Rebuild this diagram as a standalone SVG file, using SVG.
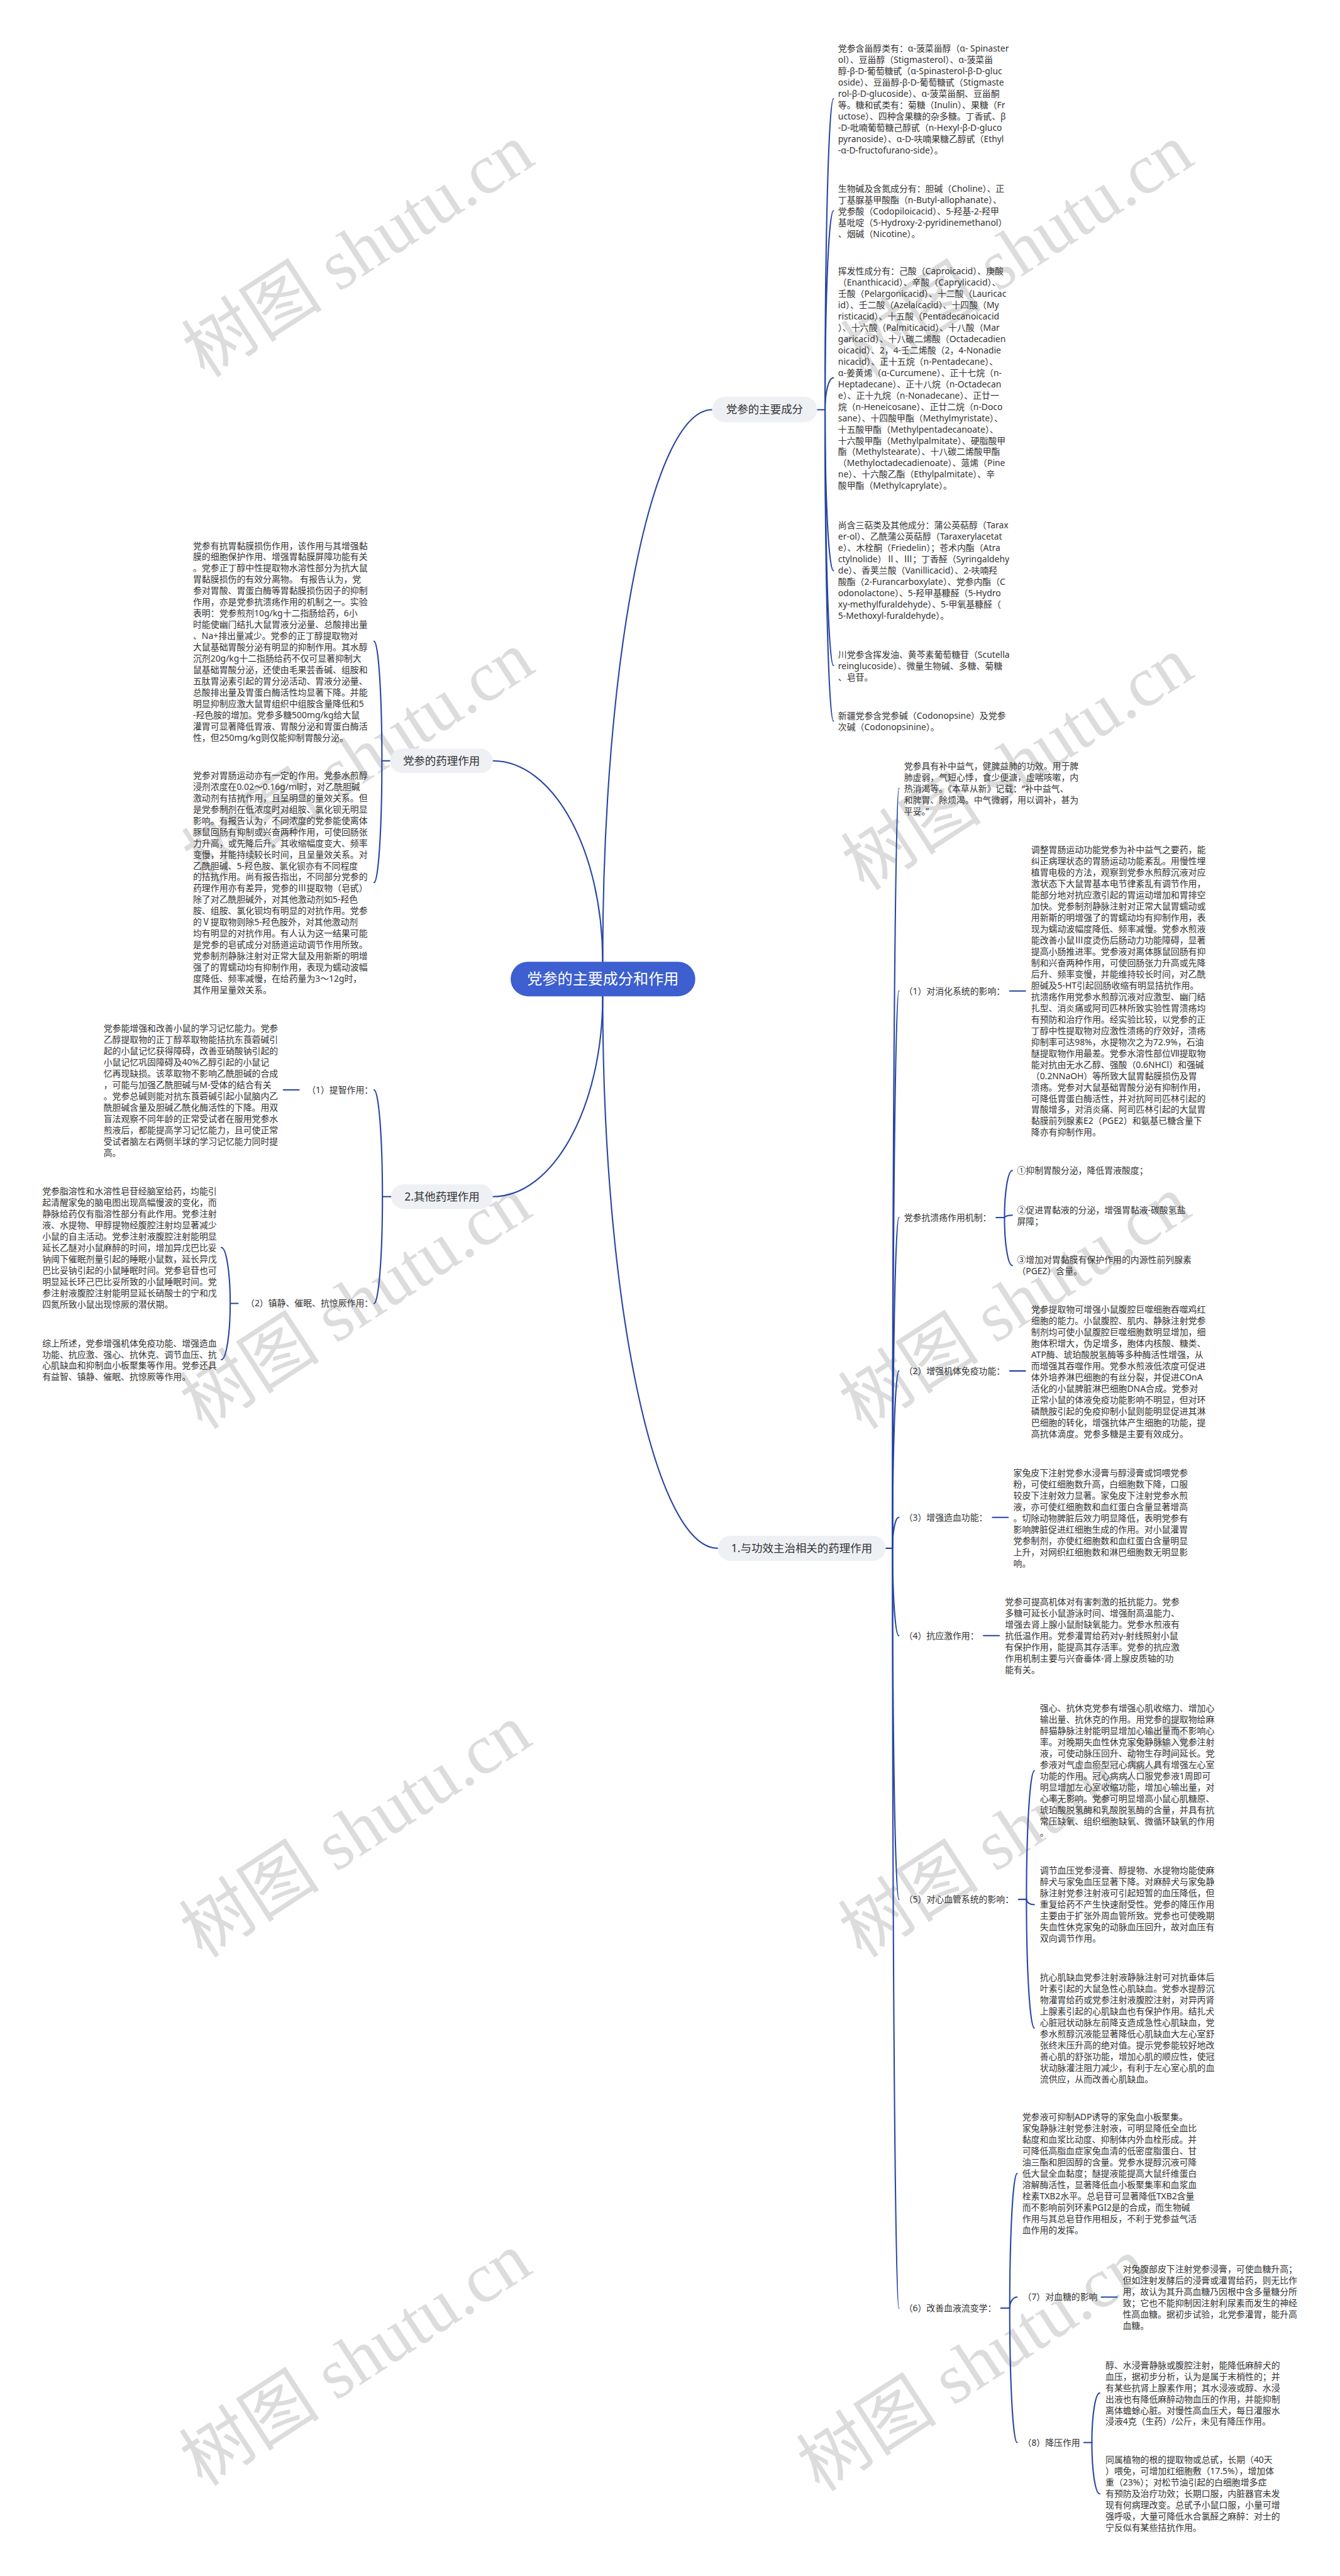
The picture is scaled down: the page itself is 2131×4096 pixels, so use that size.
<svg xmlns="http://www.w3.org/2000/svg" width="2131" height="4096" viewBox="0 0 2131 4096">
<style>
.t{font-family:'Noto Sans','Noto Sans CJK SC',sans-serif;font-size:16.7px;fill:#333}
.l1{font-family:'Noto Sans','Noto Sans CJK SC',sans-serif;font-size:21px;fill:#333}
.root{font-family:'Noto Sans','Noto Sans CJK SC',sans-serif;font-size:29px;fill:#fff}
.pill{fill:#eef0f4}
.c{fill:none;stroke:#2645a3;stroke-width:2.5;stroke-linecap:round}
.wm{font-family:'Liberation Serif','Noto Sans CJK SC',serif;font-size:135px;fill:#dcdcdc}
</style>
<rect width="2131" height="4096" fill="#fff"/>
<g transform="scale(0.832)">
<g id="watermark" text-anchor="middle">
<text class="wm" transform="translate(685,480) rotate(-33)" y="45">树图 shutu.cn</text>
<text class="wm" transform="translate(1945,480) rotate(-33)" y="45">树图 shutu.cn</text>
<text class="wm" transform="translate(685,1450) rotate(-33)" y="45">树图 shutu.cn</text>
<text class="wm" transform="translate(1945,1460) rotate(-33)" y="45">树图 shutu.cn</text>
<text class="wm" transform="translate(680,2490) rotate(-33)" y="45">树图 shutu.cn</text>
<text class="wm" transform="translate(1940,2490) rotate(-33)" y="45">树图 shutu.cn</text>
<text class="wm" transform="translate(680,3500) rotate(-33)" y="45">树图 shutu.cn</text>
<text class="wm" transform="translate(1940,3500) rotate(-33)" y="45">树图 shutu.cn</text>
<text class="wm" transform="translate(680,4510) rotate(-33)" y="45">树图 shutu.cn</text>
<text class="wm" transform="translate(1860,4520) rotate(-33)" y="45">树图 shutu.cn</text>
</g>
<g id="connectors">
<path class="c" d="M1152,1838 C1152,1256 1246,783 1361,783"/>
<path class="c" d="M1152,1838 C1152,1626 1058,1454 942,1454"/>
<path class="c" d="M1152,1904 C1152,2115 1058,2287 942,2287"/>
<path class="c" d="M1152,1904 C1152,2486 1251,2959 1372,2959"/>
<path class="c" d="M1562,783 H1577"/>
<path class="c" d="M1577,783 C1577,455 1584,189 1593,189"/>
<path class="c" d="M1577,783 C1577,573.5 1584,403 1593,403"/>
<path class="c" d="M1577,783 C1577,749 1584,722 1593,722"/>
<path class="c" d="M1577,783 C1577,953 1584,1090.5 1593,1090.5"/>
<path class="c" d="M1577,783 C1577,1053 1584,1272 1593,1272"/>
<path class="c" d="M1577,783 C1577,1111 1584,1378 1593,1378"/>
<path class="c" d="M745.6,1454 H730"/>
<path class="c" d="M730,1454 C730,1328 723.3,1225.5 715,1225.5"/>
<path class="c" d="M730,1454 C730,1582.5 723.3,1686.7 715,1686.7"/>
<path class="c" d="M747.7,2287 H731"/>
<path class="c" d="M731,2287 C731,2174 723.8,2083 715,2083"/>
<path class="c" d="M731,2287 C731,2400 723.8,2491 715,2491"/>
<path class="c" d="M571.7,2083 H541.7"/>
<path class="c" d="M455,2491 H440"/>
<path class="c" d="M440,2491 C440,2432 432.4,2384 423,2384"/>
<path class="c" d="M440,2491 C440,2550 432.4,2598.5 423,2598.5"/>
<path class="c" d="M1693,2959 H1706"/>
<path class="c" d="M1706,2959 C1706,2157.5 1711.4,1507 1718,1507"/>
<path class="c" d="M1706,2959 C1706,2371 1711.4,1894 1718,1894"/>
<path class="c" d="M1706,2959 C1706,2610 1711.4,2327 1718,2327"/>
<path class="c" d="M1706,2959 C1706,2772 1711.4,2620 1718,2620"/>
<path class="c" d="M1706,2959 C1706,2926 1711.4,2900 1718,2900"/>
<path class="c" d="M1706,2959 C1706,3051 1711.4,3126 1718,3126"/>
<path class="c" d="M1706,2959 C1706,3329 1711.4,3630 1718,3630"/>
<path class="c" d="M1706,2959 C1706,3760 1711.4,4411 1718,4411"/>
<path class="c" d="M1930,1894 H1960"/>
<path class="c" d="M1904,2327 H1920"/>
<path class="c" d="M1920,2327 C1920,2277 1926.7,2237 1935,2237"/>
<path class="c" d="M1920,2327 C1920,2324.5 1926.7,2322.5 1935,2322.5"/>
<path class="c" d="M1920,2327 C1920,2377.5 1926.7,2418.5 1935,2418.5"/>
<path class="c" d="M1930,2620 H1960"/>
<path class="c" d="M1897,2900 H1927"/>
<path class="c" d="M1880,3126 H1910"/>
<path class="c" d="M1947,3630 H1962"/>
<path class="c" d="M1962,3630 C1962,3494 1968.7,3384 1977,3384"/>
<path class="c" d="M1962,3630 C1962,3635.5 1968.7,3640 1977,3640"/>
<path class="c" d="M1962,3630 C1962,3766 1968.7,3876 1977,3876"/>
<path class="c" d="M1913,4411 H1930"/>
<path class="c" d="M1930,4411 C1930,4269 1936.3,4154 1944,4154"/>
<path class="c" d="M1930,4411 C1930,4399.4 1936.3,4390 1944,4390"/>
<path class="c" d="M1930,4411 C1930,4553 1936.3,4668 1944,4668"/>
<path class="c" d="M2105,4390 H2135"/>
<path class="c" d="M2072,4668 H2087"/>
<path class="c" d="M2087,4668 C2087,4616 2093.7,4573.5 2102,4573.5"/>
<path class="c" d="M2087,4668 C2087,4722 2093.7,4766 2102,4766"/>
</g>
<g id="root">
<rect x="976" y="1838" width="353" height="66" rx="33" fill="#3d5fcf"/>
<text class="root" x="1152.5" y="1881" text-anchor="middle">党参的主要成分和作用</text>
</g>
<g id="n-components">
<rect class="pill" x="1361" y="758" width="201" height="49" rx="24.5"/>
<text class="l1" x="1461.5" y="790" text-anchor="middle">党参的主要成分</text>
</g>
<g id="n-pharm">
<rect class="pill" x="745.6" y="1430.5" width="196.4" height="47" rx="23.5"/>
<text class="l1" x="843.8" y="1461.5" text-anchor="middle">党参的药理作用</text>
</g>
<g id="n-other">
<rect class="pill" x="747.7" y="2263.5" width="194.3" height="47" rx="23.5"/>
<text class="l1" x="844.9" y="2294.5" text-anchor="middle">2.其他药理作用</text>
</g>
<g id="n-main">
<rect class="pill" x="1372" y="2935" width="321" height="48" rx="24"/>
<text class="l1" x="1532.5" y="2966.5" text-anchor="middle">1.与功效主治相关的药理作用</text>
</g>
<g id="n-a">
<text class="t" x="1602" y="98.5"><tspan x="1602" dy="0">党参含甾醇类有：α-菠菜甾醇（α- Spinaster</tspan><tspan x="1602" dy="21.6">ol）、豆甾醇（Stigmasterol）、α-菠菜甾</tspan><tspan x="1602" dy="21.6">醇-β-D-葡萄糖甙（α-Spinasterol-β-D-gluc</tspan><tspan x="1602" dy="21.6">oside）、豆甾醇-β-D-葡萄糖甙（Stigmaste</tspan><tspan x="1602" dy="21.6">rol-β-D-glucoside）、α-菠菜甾酮、豆甾酮</tspan><tspan x="1602" dy="21.6">等。糖和甙类有：菊糖（Inulin）、果糖（Fr</tspan><tspan x="1602" dy="21.6">uctose）、四种含果糖的杂多糖。丁香甙、β</tspan><tspan x="1602" dy="21.6">-D-吡喃葡萄糖己醇甙（n-Hexyl-β-D-gluco</tspan><tspan x="1602" dy="21.6">pyranoside）、α-D-呋喃果糖乙醇甙（Ethyl</tspan><tspan x="1602" dy="21.6">-α-D-fructofurano-side）。</tspan></text>
</g>
<g id="n-b">
<text class="t" x="1602" y="366.5"><tspan x="1602" dy="0">生物碱及含氮成分有：胆碱（Choline）、正</tspan><tspan x="1602" dy="21.6">丁基脲基甲酸酯（n-Butyl-allophanate）、</tspan><tspan x="1602" dy="21.6">党参酸（Codopiloicacid）、5-羟基-2-羟甲</tspan><tspan x="1602" dy="21.6">基吡啶（5-Hydroxy-2-pyridinemethanol）</tspan><tspan x="1602" dy="21.6">、烟碱（Nicotine）。</tspan></text>
</g>
<g id="n-c">
<text class="t" x="1602" y="524"><tspan x="1602" dy="0">挥发性成分有：己酸（Caproicacid）、庚酸</tspan><tspan x="1602" dy="21.6">（Enanthicacid）、辛酸（Caprylicacid）、</tspan><tspan x="1602" dy="21.6">壬酸（Pelargonicacid）、十二酸（Lauricac</tspan><tspan x="1602" dy="21.6">id）、壬二酸（Azelaicacid）、十四酸（My</tspan><tspan x="1602" dy="21.6">risticacid）、十五酸（Pentadecanoicacid</tspan><tspan x="1602" dy="21.6">）、十六酸（Palmiticacid）、十八酸（Mar</tspan><tspan x="1602" dy="21.6">garicacid）、十八碳二烯酸（Octadecadien</tspan><tspan x="1602" dy="21.6">oicacid）、2，4-壬二烯酸（2，4-Nonadie</tspan><tspan x="1602" dy="21.6">nicacid）、正十五烷（n-Pentadecane）、</tspan><tspan x="1602" dy="21.6">α-姜黄烯（α-Curcumene）、正十七烷（n-</tspan><tspan x="1602" dy="21.6">Heptadecane）、正十八烷（n-Octadecan</tspan><tspan x="1602" dy="21.6">e）、正十九烷（n-Nonadecane）、正廿一</tspan><tspan x="1602" dy="21.6">烷（n-Heneicosane）、正廿二烷（n-Doco</tspan><tspan x="1602" dy="21.6">sane）、十四酸甲酯（Methylmyristate）、</tspan><tspan x="1602" dy="21.6">十五酸甲酯（Methylpentadecanoate）、</tspan><tspan x="1602" dy="21.6">十六酸甲酯（Methylpalmitate）、硬脂酸甲</tspan><tspan x="1602" dy="21.6">酯（Methylstearate）、十八碳二烯酸甲酯</tspan><tspan x="1602" dy="21.6">（Methyloctadecadienoate）、蒎烯（Pine</tspan><tspan x="1602" dy="21.6">ne）、十六酸乙酯（Ethylpalmitate）、辛</tspan><tspan x="1602" dy="21.6">酸甲酯（Methylcaprylate）。</tspan></text>
</g>
<g id="n-d">
<text class="t" x="1602" y="1010"><tspan x="1602" dy="0">尚含三萜类及其他成分：蒲公英萜醇（Tarax</tspan><tspan x="1602" dy="21.6">er-ol）、乙酰蒲公英萜醇（Taraxerylacetat</tspan><tspan x="1602" dy="21.6">e）、木栓酮（Friedelin）；苍术内酯（Atra</tspan><tspan x="1602" dy="21.6">ctylnolide）Ⅱ、Ⅲ；丁香醛（Syringaldehy</tspan><tspan x="1602" dy="21.6">de）、香荚兰酸（Vanillicacid）、2-呋喃羟</tspan><tspan x="1602" dy="21.6">酸酯（2-Furancarboxylate）、党参内酯（C</tspan><tspan x="1602" dy="21.6">odonolactone）、5-羟甲基糠醛（5-Hydro</tspan><tspan x="1602" dy="21.6">xy-methylfuraldehyde）、5-甲氧基糠醛（</tspan><tspan x="1602" dy="21.6">5-Methoxyl-furaldehyde）。</tspan></text>
</g>
<g id="n-e">
<text class="t" x="1602" y="1257"><tspan x="1602" dy="0">川党参含挥发油、黄芩素葡萄糖苷（Scutella</tspan><tspan x="1602" dy="21.6">reinglucoside）、微量生物碱、多糖、菊糖</tspan><tspan x="1602" dy="21.6">、皂苷。</tspan></text>
</g>
<g id="n-f">
<text class="t" x="1602" y="1373.6"><tspan x="1602" dy="0">新疆党参含党参碱（Codonopsine）及党参</tspan><tspan x="1602" dy="21.6">次碱（Codonopsinine）。</tspan></text>
</g>
<g id="n-g">
<text class="t" x="369" y="1048.7"><tspan x="369" dy="0">党参有抗胃黏膜损伤作用，该作用与其增强黏</tspan><tspan x="369" dy="21.6">膜的细胞保护作用、增强胃黏膜屏障功能有关</tspan><tspan x="369" dy="21.6">。党参正丁醇中性提取物水溶性部分为抗大鼠</tspan><tspan x="369" dy="21.6">胃黏膜损伤的有效分离物。 有报告认为，党</tspan><tspan x="369" dy="21.6">参对胃酸、胃蛋白酶等胃黏膜损伤因子的抑制</tspan><tspan x="369" dy="21.6">作用，亦是党参抗溃疡作用的机制之一。实验</tspan><tspan x="369" dy="21.6">表明：党参煎剂10g/kg十二指肠给药，6小</tspan><tspan x="369" dy="21.6">时能使幽门结扎大鼠胃液分泌量、总酸排出量</tspan><tspan x="369" dy="21.6">、Na+排出量减少。党参的正丁醇提取物对</tspan><tspan x="369" dy="21.6">大鼠基础胃酸分泌有明显的抑制作用。其水醇</tspan><tspan x="369" dy="21.6">沉剂20g/kg十二指肠给药不仅可显著抑制大</tspan><tspan x="369" dy="21.6">鼠基础胃酸分泌，还使由毛果芸香碱、组胺和</tspan><tspan x="369" dy="21.6">五肽胃泌素引起的胃分泌活动、胃液分泌量、</tspan><tspan x="369" dy="21.6">总酸排出量及胃蛋白酶活性均显著下降。并能</tspan><tspan x="369" dy="21.6">明显抑制应激大鼠胃组织中组胺含量降低和5</tspan><tspan x="369" dy="21.6">-羟色胺的增加。党参多糖500mg/kg给大鼠</tspan><tspan x="369" dy="21.6">灌胃可显著降低胃液、胃酸分泌和胃蛋白酶活</tspan><tspan x="369" dy="21.6">性，但250mg/kg则仅能抑制胃酸分泌。</tspan></text>
</g>
<g id="n-h">
<text class="t" x="369" y="1487.7"><tspan x="369" dy="0">党参对胃肠运动亦有一定的作用。党参水煎醇</tspan><tspan x="369" dy="21.6">浸剂浓度在0.02～0.16g/ml时，对乙酰胆碱</tspan><tspan x="369" dy="21.6">激动剂有拮抗作用，且呈明显的量效关系。但</tspan><tspan x="369" dy="21.6">是党参制剂在低浓度时对组胺、氯化钡无明显</tspan><tspan x="369" dy="21.6">影响。有报告认为，不同浓度的党参能使离体</tspan><tspan x="369" dy="21.6">豚鼠回肠有抑制或兴奋两种作用，可使回肠张</tspan><tspan x="369" dy="21.6">力升高，或先降后升。其收缩幅度变大、频率</tspan><tspan x="369" dy="21.6">变慢，并能持续较长时间，且呈量效关系。对</tspan><tspan x="369" dy="21.6">乙酰胆碱、5-羟色胺、氯化钡亦有不同程度</tspan><tspan x="369" dy="21.6">的拮抗作用。尚有报告指出，不同部分党参的</tspan><tspan x="369" dy="21.6">药理作用亦有差异，党参的Ⅲ提取物（皂甙）</tspan><tspan x="369" dy="21.6">除了对乙酰胆碱外，对其他激动剂如5-羟色</tspan><tspan x="369" dy="21.6">胺、组胺、氯化钡均有明显的对抗作用。党参</tspan><tspan x="369" dy="21.6">的Ⅴ提取物则除5-羟色胺外，对其他激动剂</tspan><tspan x="369" dy="21.6">均有明显的对抗作用。有人认为这一结果可能</tspan><tspan x="369" dy="21.6">是党参的皂甙成分对肠道运动调节作用所致。</tspan><tspan x="369" dy="21.6">党参制剂静脉注射对正常大鼠及用新斯的明增</tspan><tspan x="369" dy="21.6">强了的胃蠕动均有抑制作用，表现为蠕动波幅</tspan><tspan x="369" dy="21.6">度降低、频率减慢，在给药量为3～12g时，</tspan><tspan x="369" dy="21.6">其作用呈量效关系。</tspan></text>
</g>
<g id="n-o1">
<text class="t" x="713" y="2089" text-anchor="end">（1）提智作用：</text>
</g>
<g id="n-i">
<text class="t" x="198" y="1971.3"><tspan x="198" dy="0">党参能增强和改善小鼠的学习记忆能力。党参</tspan><tspan x="198" dy="21.6">乙醇提取物的正丁醇萃取物能拮抗东莨菪碱引</tspan><tspan x="198" dy="21.6">起的小鼠记忆获得障碍，改善亚硝酸钠引起的</tspan><tspan x="198" dy="21.6">小鼠记忆巩固障碍及40%乙醇引起的小鼠记</tspan><tspan x="198" dy="21.6">忆再现缺损。该萃取物不影响乙酰胆碱的合成</tspan><tspan x="198" dy="21.6">，可能与加强乙酰胆碱与M-受体的结合有关</tspan><tspan x="198" dy="21.6">。党参总碱则能对抗东莨菪碱引起小鼠脑内乙</tspan><tspan x="198" dy="21.6">酰胆碱含量及胆碱乙酰化酶活性的下降。用双</tspan><tspan x="198" dy="21.6">盲法观察不同年龄的正常受试者在服用党参水</tspan><tspan x="198" dy="21.6">煎液后，都能提高学习记忆能力，且可使正常</tspan><tspan x="198" dy="21.6">受试者脑左右两侧半球的学习记忆能力同时提</tspan><tspan x="198" dy="21.6">高。</tspan></text>
</g>
<g id="n-o2">
<text class="t" x="713" y="2497" text-anchor="end">（2）镇静、催眠、抗惊厥作用：</text>
</g>
<g id="n-j">
<text class="t" x="80.7" y="2282.7"><tspan x="80.7" dy="0">党参脂溶性和水溶性皂苷经脑室给药，均能引</tspan><tspan x="80.7" dy="21.6">起清醒家兔的脑电图出现高幅慢波的变化，而</tspan><tspan x="80.7" dy="21.6">静脉给药仅有脂溶性部分有此作用。党参注射</tspan><tspan x="80.7" dy="21.6">液、水提物、甲醇提物经腹腔注射均显著减少</tspan><tspan x="80.7" dy="21.6">小鼠的自主活动。党参注射液腹腔注射能明显</tspan><tspan x="80.7" dy="21.6">延长乙醚对小鼠麻醉的时间，增加异戊巴比妥</tspan><tspan x="80.7" dy="21.6">钠阈下催眠剂量引起的睡眠小鼠数，延长异戊</tspan><tspan x="80.7" dy="21.6">巴比妥钠引起的小鼠睡眠时间。党参皂苷也可</tspan><tspan x="80.7" dy="21.6">明显延长环己巴比妥所致的小鼠睡眠时间。党</tspan><tspan x="80.7" dy="21.6">参注射液腹腔注射能明显延长硝酸士的宁和戊</tspan><tspan x="80.7" dy="21.6">四氮所致小鼠出现惊厥的潜伏期。</tspan></text>
</g>
<g id="n-k">
<text class="t" x="80.7" y="2572.8"><tspan x="80.7" dy="0">综上所述，党参增强机体免疫功能、增强造血</tspan><tspan x="80.7" dy="21.6">功能、抗应激、强心、抗休克、调节血压、抗</tspan><tspan x="80.7" dy="21.6">心肌缺血和抑制血小板聚集等作用。党参还具</tspan><tspan x="80.7" dy="21.6">有益智、镇静、催眠、抗惊厥等作用。</tspan></text>
</g>
<g id="n-l">
<text class="t" x="1728" y="1470"><tspan x="1728" dy="0">党参具有补中益气，健脾益肺的功效。用于脾</tspan><tspan x="1728" dy="21.6">肺虚弱，气短心悸，食少便溏，虚喘咳嗽，内</tspan><tspan x="1728" dy="21.6">热消渴等。《本草从新》记载：“补中益气、</tspan><tspan x="1728" dy="21.6">和脾胃、除烦渴。中气微弱，用以调补，甚为</tspan><tspan x="1728" dy="21.6">平妥。”</tspan></text>
</g>
<g id="n-r1">
<text class="t" x="1728" y="1900">（1）对消化系统的影响：</text>
</g>
<g id="n-m">
<text class="t" x="1971" y="1630"><tspan x="1971" dy="0">调整胃肠运动功能党参为补中益气之要药，能</tspan><tspan x="1971" dy="21.6">纠正病理状态的胃肠运动功能紊乱。用慢性埋</tspan><tspan x="1971" dy="21.6">植胃电极的方法，观察到党参水煎醇沉液对应</tspan><tspan x="1971" dy="21.6">激状态下大鼠胃基本电节律紊乱有调节作用，</tspan><tspan x="1971" dy="21.6">能部分地对抗应激引起的胃运动增加和胃排空</tspan><tspan x="1971" dy="21.6">加快。党参制剂静脉注射对正常大鼠胃蠕动或</tspan><tspan x="1971" dy="21.6">用新斯的明增强了的胃蠕动均有抑制作用，表</tspan><tspan x="1971" dy="21.6">现为蠕动波幅度降低、频率减慢。党参水煎液</tspan><tspan x="1971" dy="21.6">能改善小鼠Ⅲ度烫伤后肠动力功能障碍，显著</tspan><tspan x="1971" dy="21.6">提高小肠推进率。党参液对离体豚鼠回肠有抑</tspan><tspan x="1971" dy="21.6">制和兴奋两种作用，可使回肠张力升高或先降</tspan><tspan x="1971" dy="21.6">后升、频率变慢，并能维持较长时间，对乙酰</tspan><tspan x="1971" dy="21.6">胆碱及5-HT引起回肠收缩有明显拮抗作用。</tspan><tspan x="1971" dy="21.6">抗溃疡作用党参水煎醇沉液对应激型、幽门结</tspan><tspan x="1971" dy="21.6">扎型、消炎痛或阿司匹林所致实验性胃溃疡均</tspan><tspan x="1971" dy="21.6">有预防和治疗作用。经实验比较，以党参的正</tspan><tspan x="1971" dy="21.6">丁醇中性提取物对应激性溃疡的疗效好，溃疡</tspan><tspan x="1971" dy="21.6">抑制率可达98%，水提物次之为72.9%，石油</tspan><tspan x="1971" dy="21.6">醚提取物作用最差。党参水溶性部位Ⅶ提取物</tspan><tspan x="1971" dy="21.6">能对抗由无水乙醇、强酸（0.6NHCl）和强碱</tspan><tspan x="1971" dy="21.6">（0.2NNaOH）等所致大鼠胃黏膜损伤及胃</tspan><tspan x="1971" dy="21.6">溃疡。党参对大鼠基础胃酸分泌有抑制作用，</tspan><tspan x="1971" dy="21.6">可降低胃蛋白酶活性，并对抗阿司匹林引起的</tspan><tspan x="1971" dy="21.6">胃酸增多，对消炎痛、阿司匹林引起的大鼠胃</tspan><tspan x="1971" dy="21.6">黏膜前列腺素E2（PGE2）和氨基已糖含量下</tspan><tspan x="1971" dy="21.6">降亦有抑制作用。</tspan></text>
</g>
<g id="n-ulcer">
<text class="t" x="1728" y="2333">党参抗溃疡作用机制：</text>
</g>
<g id="n-u1">
<text class="t" x="1944" y="2243">①抑制胃酸分泌，降低胃液酸度；</text>
</g>
<g id="n-u2">
<text class="t" x="1944" y="2318"><tspan x="1944" dy="0">②促进胃黏液的分泌，增强胃黏液-碳酸氢盐</tspan><tspan x="1944" dy="21.6">屏障；</tspan></text>
</g>
<g id="n-u3">
<text class="t" x="1944" y="2414"><tspan x="1944" dy="0">③增加对胃黏膜有保护作用的内源性前列腺素</tspan><tspan x="1944" dy="21.6">（PGEZ）含量。</tspan></text>
</g>
<g id="n-r2">
<text class="t" x="1728" y="2626">（2）增强机体免疫功能：</text>
</g>
<g id="n-o">
<text class="t" x="1971" y="2508.5"><tspan x="1971" dy="0">党参提取物可增强小鼠腹腔巨噬细胞吞噬鸡红</tspan><tspan x="1971" dy="21.6">细胞的能力。小鼠腹腔、肌内、静脉注射党参</tspan><tspan x="1971" dy="21.6">制剂均可使小鼠腹腔巨噬细胞数明显增加，细</tspan><tspan x="1971" dy="21.6">胞体积增大，伪足增多，胞体内核酸、糖类、</tspan><tspan x="1971" dy="21.6">ATP酶、琥珀酸脱氢酶等多种酶活性增强，从</tspan><tspan x="1971" dy="21.6">而增强其吞噬作用。党参水煎液低浓度可促进</tspan><tspan x="1971" dy="21.6">体外培养淋巴细胞的有丝分裂，并促进COnA</tspan><tspan x="1971" dy="21.6">活化的小鼠脾脏淋巴细胞DNA合成。党参对</tspan><tspan x="1971" dy="21.6">正常小鼠的体液免疫功能影响不明显，但对环</tspan><tspan x="1971" dy="21.6">磷酰胺引起的免疫抑制小鼠则能明显促进其淋</tspan><tspan x="1971" dy="21.6">巴细胞的转化，增强抗体产生细胞的功能，提</tspan><tspan x="1971" dy="21.6">高抗体滴度。党参多糖是主要有效成分。</tspan></text>
</g>
<g id="n-r3">
<text class="t" x="1728" y="2906">（3）增强造血功能：</text>
</g>
<g id="n-p">
<text class="t" x="1937" y="2821.4"><tspan x="1937" dy="0">家兔皮下注射党参水浸膏与醇浸膏或饲喂党参</tspan><tspan x="1937" dy="21.6">粉，可使红细胞数升高，白细胞数下降，口服</tspan><tspan x="1937" dy="21.6">较皮下注射效力显著。家兔皮下注射党参水煎</tspan><tspan x="1937" dy="21.6">液，亦可使红细胞数和血红蛋白含量显著增高</tspan><tspan x="1937" dy="21.6">。切除动物脾脏后效力明显降低，表明党参有</tspan><tspan x="1937" dy="21.6">影响脾脏促进红细胞生成的作用。对小鼠灌胃</tspan><tspan x="1937" dy="21.6">党参制剂，亦使红细胞数和血红蛋白含量明显</tspan><tspan x="1937" dy="21.6">上升，对网织红细胞数和淋巴细胞数无明显影</tspan><tspan x="1937" dy="21.6">响。</tspan></text>
</g>
<g id="n-r4">
<text class="t" x="1728" y="3132">（4）抗应激作用：</text>
</g>
<g id="n-q">
<text class="t" x="1921" y="3067.7"><tspan x="1921" dy="0">党参可提高机体对有害刺激的抵抗能力。党参</tspan><tspan x="1921" dy="21.6">多糖可延长小鼠游泳时间、增强耐高温能力、</tspan><tspan x="1921" dy="21.6">增强去肾上腺小鼠耐缺氧能力。党参水煎液有</tspan><tspan x="1921" dy="21.6">抗低温作用。党参灌胃给药对γ-射线照射小鼠</tspan><tspan x="1921" dy="21.6">有保护作用，能提高其存活率。党参的抗应激</tspan><tspan x="1921" dy="21.6">作用机制主要与兴奋垂体-肾上腺皮质轴的功</tspan><tspan x="1921" dy="21.6">能有关。</tspan></text>
</g>
<g id="n-r5">
<text class="t" x="1728" y="3636">（5）对心血管系统的影响：</text>
</g>
<g id="n-r">
<text class="t" x="1987.7" y="3271"><tspan x="1987.7" dy="0">强心、抗休克党参有增强心肌收缩力、增加心</tspan><tspan x="1987.7" dy="21.6">输出量、抗休克的作用。用党参的提取物给麻</tspan><tspan x="1987.7" dy="21.6">醉猫静脉注射能明显增加心输出量而不影响心</tspan><tspan x="1987.7" dy="21.6">率。对晚期失血性休克家兔静脉输入党参注射</tspan><tspan x="1987.7" dy="21.6">液，可使动脉压回升、动物生存时间延长。党</tspan><tspan x="1987.7" dy="21.6">参液对气虚血瘀型冠心病病人具有增强左心室</tspan><tspan x="1987.7" dy="21.6">功能的作用。冠心病病人口服党参液1周即可</tspan><tspan x="1987.7" dy="21.6">明显增加左心室收缩功能，增加心输出量，对</tspan><tspan x="1987.7" dy="21.6">心率无影响。党参可明显增高小鼠心肌糖原、</tspan><tspan x="1987.7" dy="21.6">琥珀酸脱氢酶和乳酸脱氢酶的含量，并具有抗</tspan><tspan x="1987.7" dy="21.6">常压缺氧、组织细胞缺氧、微循环缺氧的作用</tspan><tspan x="1987.7" dy="21.6">。</tspan></text>
</g>
<g id="n-s">
<text class="t" x="1987.7" y="3581"><tspan x="1987.7" dy="0">调节血压党参浸膏、醇提物、水提物均能使麻</tspan><tspan x="1987.7" dy="21.6">醉犬与家兔血压显著下降。对麻醉犬与家兔静</tspan><tspan x="1987.7" dy="21.6">脉注射党参注射液可引起短暂的血压降低，但</tspan><tspan x="1987.7" dy="21.6">重复给药不产生快速耐受性。党参的降压作用</tspan><tspan x="1987.7" dy="21.6">主要由于扩张外周血管所致。党参也可使晚期</tspan><tspan x="1987.7" dy="21.6">失血性休克家兔的动脉血压回升，故对血压有</tspan><tspan x="1987.7" dy="21.6">双向调节作用。</tspan></text>
</g>
<g id="n-t">
<text class="t" x="1987.7" y="3785"><tspan x="1987.7" dy="0">抗心肌缺血党参注射液静脉注射可对抗垂体后</tspan><tspan x="1987.7" dy="21.6">叶素引起的大鼠急性心肌缺血。党参水提醇沉</tspan><tspan x="1987.7" dy="21.6">物灌胃给药或党参注射液腹腔注射，对异丙肾</tspan><tspan x="1987.7" dy="21.6">上腺素引起的心肌缺血也有保护作用。结扎犬</tspan><tspan x="1987.7" dy="21.6">心脏冠状动脉左前降支造成急性心肌缺血，党</tspan><tspan x="1987.7" dy="21.6">参水煎醇沉液能显著降低心肌缺血大左心室舒</tspan><tspan x="1987.7" dy="21.6">张终末压升高的绝对值。提示党参能较好地改</tspan><tspan x="1987.7" dy="21.6">善心肌的舒张功能，增加心肌的顺应性，使冠</tspan><tspan x="1987.7" dy="21.6">状动脉灌注阻力减少，有利于左心室心肌的血</tspan><tspan x="1987.7" dy="21.6">流供应，从而改善心肌缺血。</tspan></text>
</g>
<g id="n-r6">
<text class="t" x="1728" y="4417">（6）改善血液流变学：</text>
</g>
<g id="n-u">
<text class="t" x="1954" y="4051.6"><tspan x="1954" dy="0">党参液可抑制ADP诱导的家兔血小板聚集。</tspan><tspan x="1954" dy="21.6">家兔静脉注射党参注射液，可明显降低全血比</tspan><tspan x="1954" dy="21.6">黏度和血浆比动度、抑制体内外血栓形成。并</tspan><tspan x="1954" dy="21.6">可降低高脂血症家兔血清的低密度脂蛋白、甘</tspan><tspan x="1954" dy="21.6">油三酯和胆固醇的含量。党参水提醇沉液可降</tspan><tspan x="1954" dy="21.6">低大鼠全血黏度；醚提液能提高大鼠纤维蛋白</tspan><tspan x="1954" dy="21.6">溶解酶活性，显著降低血小板聚集率和血浆血</tspan><tspan x="1954" dy="21.6">栓素TXB2水平。总皂苷可显著降低TXB2含量</tspan><tspan x="1954" dy="21.6">而不影响前列环素PGI2是的合成，而生物碱</tspan><tspan x="1954" dy="21.6">作用与其总皂苷作用相反，不利于党参益气活</tspan><tspan x="1954" dy="21.6">血作用的发挥。</tspan></text>
</g>
<g id="n-r7">
<text class="t" x="1955" y="4396">（7）对血糖的影响</text>
</g>
<g id="n-v">
<text class="t" x="2146" y="4343"><tspan x="2146" dy="0">对兔腹部皮下注射党参浸膏，可使血糖升高；</tspan><tspan x="2146" dy="21.6">但如注射发酵后的浸膏或灌胃给药，则无比作</tspan><tspan x="2146" dy="21.6">用，故认为其升高血糖乃因根中含多量糖分所</tspan><tspan x="2146" dy="21.6">致；它也不能抑制因注射利尿素而发生的神经</tspan><tspan x="2146" dy="21.6">性高血糖。据初步试验，北党参灌胃，能升高</tspan><tspan x="2146" dy="21.6">血糖。</tspan></text>
</g>
<g id="n-r8">
<text class="t" x="1955" y="4674">（8）降压作用</text>
</g>
<g id="n-w">
<text class="t" x="2113" y="4526"><tspan x="2113" dy="0">醇、水浸膏静脉或腹腔注射，能降低麻醉犬的</tspan><tspan x="2113" dy="21.6">血压，据初步分析，认为是属于末梢性的；并</tspan><tspan x="2113" dy="21.6">有某些抗肾上腺素作用；其水浸液或醇、水浸</tspan><tspan x="2113" dy="21.6">出液也有降低麻醉动物血压的作用，并能抑制</tspan><tspan x="2113" dy="21.6">离体蟾蜍心脏。对慢性高血压犬，每日灌服水</tspan><tspan x="2113" dy="21.6">浸液4克（生药）/公斤，未见有降压作用。</tspan></text>
</g>
<g id="n-x">
<text class="t" x="2113" y="4707"><tspan x="2113" dy="0">同属植物的根的提取物或总甙，长期（40天</tspan><tspan x="2113" dy="21.6">）喂免，可增加红细胞敷（17.5%），增加体</tspan><tspan x="2113" dy="21.6">重（23%）；对松节油引起的白细胞增多症</tspan><tspan x="2113" dy="21.6">有预防及治疗功效；长期口服，内脏器官未发</tspan><tspan x="2113" dy="21.6">现有何病理改变。总甙予小鼠口服，小量可增</tspan><tspan x="2113" dy="21.6">强呼吸，大量可降低水合氯醛之麻醉：对士的</tspan><tspan x="2113" dy="21.6">宁反似有某些拮抗作用。</tspan></text>
</g>
</g>
</svg>
